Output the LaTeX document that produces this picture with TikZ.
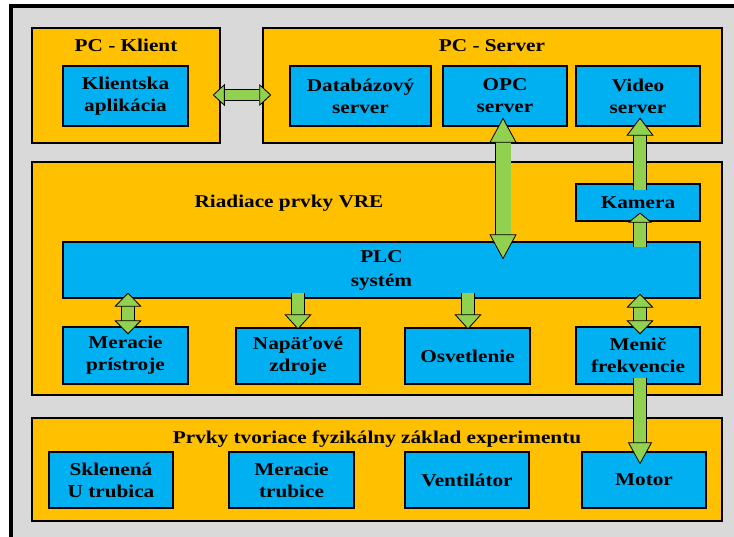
\documentclass[tikz,border=0pt]{standalone}
\usepackage{fontspec}
\newfontfamily\boxfont{Liberation Serif}[FakeStretch=1.18]
\usepackage{tikz}
\usetikzlibrary{calc,arrows.meta}
\definecolor{boxorange}{HTML}{FFC000}
\definecolor{boxblue}{HTML}{00B0F0}
\definecolor{arrgreen}{HTML}{92D050}
\definecolor{bggray}{HTML}{D9D9D9}
\tikzset{
  group/.style={draw=black,line width=1.5pt,fill=boxorange,inner sep=0pt},
  unit/.style={draw=black,line width=1.2pt,fill=boxblue,inner sep=0pt,align=center,
    font=\boxfont\bfseries\fontsize{18}{22}\selectfont},
  title/.style={anchor=base,inner sep=0pt,font=\boxfont\bfseries\fontsize{18}{22}\selectfont},
  flow/.style={draw=black,line width=0.8pt,double=arrgreen,double distance=12.4pt},
  hd/.tip={Triangle[width=27pt,length=16pt,fill=arrgreen]}
}
\begin{document}
\begin{tikzpicture}[x=1pt,y=-1pt,line join=miter]
\useasboundingbox (0,0) rectangle (734,537);
\fill[bggray] (10.5,6) rectangle (734,537);
\draw[line width=4pt] (10.5,537) -- (10.5,6) -- (734,6);
% PC - Klient / PC - Server
\node[group,minimum width=188pt,minimum height=115pt] (klient) at (126,85.5) {};
\node[group,minimum width=459pt,minimum height=115pt] (server) at (492.5,85.5) {};
\node[title] (tklient) at (126,52) {PC - Klient};
\node[title] (tserver) at (492,52) {PC - Server};
\node[unit,minimum width=125pt,minimum height=60pt] (app) at (125.5,96) {Klientska\\aplikácia};
\node[unit,minimum width=141pt,minimum height=60pt] (db) at (360.5,96) {Databázový\\server};
\node[unit,minimum width=124pt,minimum height=60pt] (opc) at (505,96) {OPC\\server};
\node[unit,minimum width=124pt,minimum height=60pt] (video) at (638,96) {Video\\server};
% Riadiace prvky VRE
\node[group,minimum width=690pt,minimum height=233pt] (vre) at (377,278.5) {};
\node[title] (tvre) at (289,208) {Riadiace prvky VRE};
\node[unit,minimum width=124pt,minimum height=37pt] (kamera) at (638,202.5) {Kamera};
\node[unit,minimum width=637pt,minimum height=56pt,font=\boxfont\bfseries\fontsize{18}{24}\selectfont] (plc) at (381.5,270) {PLC\\systém};
\node[unit,minimum width=125pt,minimum height=57pt] (merp) at (125.5,355.5) {Meracie\\prístroje};
\node[unit,minimum width=124pt,minimum height=56pt] (nap) at (298,356) {Napäťové\\zdroje};
\node[unit,minimum width=125pt,minimum height=56pt] (osv) at (467.5,356) {Osvetlenie};
\node[unit,minimum width=124pt,minimum height=57pt] (menic) at (638,355.5) {Menič\\frekvencie};
% Prvky tvoriace fyzikálny základ experimentu
\node[group,minimum width=690pt,minimum height=103pt] (fyz) at (377,469.5) {};
\node[title] (tfyz) at (377,443) {Prvky tvoriace fyzikálny základ experimentu};
\node[unit,minimum width=124pt,minimum height=56pt] (skl) at (111,480) {Sklenená\\U trubica};
\node[unit,minimum width=125pt,minimum height=56pt] (mtrub) at (291.5,480) {Meracie\\trubice};
\node[unit,minimum width=124pt,minimum height=56pt] (vent) at (467,480) {Ventilátor};
\node[unit,minimum width=124pt,minimum height=56pt] (motor) at (644,480) {Motor};
% sipky
\draw[flow,double distance=10.4pt,{hd[width=22pt,length=12pt]}-{hd[width=22pt,length=12pt]}] ([shift={(-8pt,-9.5pt)}]klient.east) -- ([shift={(9pt,-9.5pt)}]server.west);
\draw[flow,double distance=15pt,{hd[length=25pt]}-{hd[length=25pt]}] ([shift={(-2pt,9pt)}]opc.south) -- ([shift={(121.5pt,-18pt)}]plc.north);
\draw[flow,-{hd[length=18pt]}] ([shift={(2pt,-7pt)}]kamera.north) -- ([shift={(2pt,9pt)}]video.south);
\draw[flow,-{hd[width=24pt,length=10pt]}] ([shift={(258.5pt,-6pt)}]plc.north) -- ([shift={(2pt,9pt)}]kamera.south);
\draw[flow,{hd[length=14pt]}-{hd[length=14pt]}] ([shift={(-253.5pt,6pt)}]plc.south) -- ([shift={(2.5pt,-8pt)}]merp.north);
\draw[flow,-{hd[length=15pt]}] ([shift={(-83.5pt,6pt)}]plc.south) -- ([yshift=-2pt]nap.north);
\draw[flow,-{hd[length=15pt]}] ([shift={(0.5pt,6pt)}]plc.south -| osv.north) -- ([shift={(0.5pt,-2pt)}]osv.north);
\draw[flow,{hd[length=14pt]}-{hd[length=14pt]}] ([shift={(258.5pt,5pt)}]plc.south) -- ([shift={(2pt,-8pt)}]menic.north);
\draw[flow,-{hd[width=24pt,length=22pt]}] ([shift={(2pt,7pt)}]menic.south) -- ([shift={(-4pt,-13pt)}]motor.north);
\end{tikzpicture}
\end{document}
